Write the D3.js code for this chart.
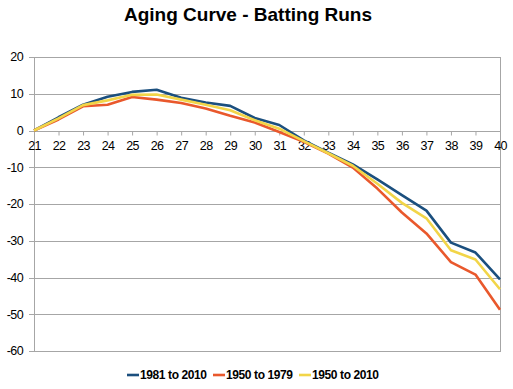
<!DOCTYPE html>
<html>
<head>
<meta charset="utf-8">
<script src="https://cdn.jsdelivr.net/npm/d3@7"></script>
<style>
  body { margin: 0; background: #fff; }
  svg { display: block; font-family: "Liberation Sans", Arial, sans-serif; }
</style>
</head>
<body>
<div id="chart"></div>
<script>
// chart data
const ages = [21, 22, 23, 24, 25, 26, 27, 28, 29, 30, 31, 32, 33, 34, 35, 36, 37, 38, 39, 40];
const runs1981to2010 = [0, 3.6, 7.0, 9.2, 10.5, 11.1, 8.9, 7.6, 6.7, 3.4, 1.5, -2.7, -6.0, -9.2, -13.3, -17.6, -21.8, -30.5, -33.2, -40.5];
const runs1950to1979 = [0, 3.0, 6.6, 7.0, 9.1, 8.4, 7.5, 6.0, 4.0, 2.2, -0.4, -3.1, -6.3, -10.1, -15.8, -22.3, -28.0, -35.8, -39.2, -48.8];
const runs1950to2010 = [0, 3.3, 6.9, 8.2, 9.7, 9.8, 8.4, 7.0, 5.5, 2.8, 0.5, -2.9, -6.2, -9.6, -14.5, -19.7, -23.9, -32.6, -35.1, -43.2];
const yTicks = [20, 10, 0, -10, -20, -30, -40, -50, -60];

const series = [
    { name: '1981 to 2010', values: runs1981to2010, color: '#1b4f7e' },
    { name: '1950 to 1979', values: runs1950to1979, color: '#e9582c' },
    { name: '1950 to 2010', values: runs1950to2010, color: '#f2d548' }
];

const width = 513, height = 389;
const margins = { top: 57, right: 13, bottom: 37, left: 34 };

const svg = d3.select('#chart').append('svg')
    .attr('width', width)
    .attr('height', height);

// title
svg.append('text')
    .attr('x', 248)
    .attr('y', 21)
    .attr('text-anchor', 'middle')
    .style('font-size', '19px')
    .style('font-weight', 'bold')
    .text('Aging Curve - Batting Runs');

const x = d3.scaleLinear()
    .domain([21, 40])
    .range([margins.left, width - margins.right]);

const y = d3.scaleLinear()
    .domain([-60, 20])
    .range([height - margins.bottom - 1, margins.top]);

// gridlines
svg.append('g')
    .selectAll('line')
    .data(yTicks)
    .join('line')
    .attr('x1', margins.left - 5)
    .attr('x2', x(40))
    .attr('y1', d => Math.round(y(d)) + 0.5)
    .attr('y2', d => Math.round(y(d)) + 0.5)
    .attr('stroke', '#a6a6a6');

// y labels
svg.append('g')
    .selectAll('text')
    .data(yTicks)
    .join('text')
    .attr('x', 23)
    .attr('y', d => y(d))
    .attr('dy', '0.35em')
    .attr('text-anchor', 'end')
    .style('font-size', '12.5px')
    .style('letter-spacing', '-0.6px')
    .text(d => d);

// left and right borders
svg.append('line')
    .attr('x1', margins.left + 0.5).attr('x2', margins.left + 0.5)
    .attr('y1', y(20)).attr('y2', y(-60) + 1)
    .attr('stroke', '#a6a6a6');
svg.append('line')
    .attr('x1', Math.round(x(40)) + 0.5).attr('x2', Math.round(x(40)) + 0.5)
    .attr('y1', y(20)).attr('y2', y(-60) + 1)
    .attr('stroke', '#a6a6a6');

// x axis at zero
const xAxis = svg.append('g')
    .attr('transform', `translate(0,${Math.round(y(0)) + 0.5})`)
    .call(d3.axisBottom(x)
        .tickValues(ages)
        .tickSize(4)
        .tickFormat(d => d));
xAxis.select('.domain').remove();
xAxis.selectAll('.tick line').attr('stroke', '#a6a6a6');
xAxis.selectAll('.tick text')
    .attr('y', 10)
    .attr('dy', '0.71em')
    .style('font-family', '"Liberation Sans", Arial, sans-serif')
    .style('font-size', '12.5px')
    .style('letter-spacing', '-0.6px')
    .attr('fill', '#000');

// lines
const line = d3.line()
    .x((d, i) => x(ages[i]))
    .y(d => y(d));

svg.append('g')
    .selectAll('path')
    .data(series)
    .join('path')
    .attr('d', d => line(d.values))
    .attr('fill', 'none')
    .attr('stroke', d => d.color)
    .attr('stroke-width', 2.6)
    .attr('stroke-linejoin', 'round');

// legend
const legendX = [127, 213, 299];
const legend = svg.append('g')
    .selectAll('g')
    .data(series)
    .join('g')
    .attr('transform', (d, i) => `translate(${legendX[i]},375)`);
legend.append('line')
    .attr('x1', 0).attr('x2', 12)
    .attr('stroke', d => d.color)
    .attr('stroke-width', 2.6);
legend.append('text')
    .attr('x', 13)
    .attr('dy', '0.35em')
    .style('font-size', '12px')
    .style('font-weight', 'bold')
    .style('letter-spacing', '-0.4px')
    .text(d => d.name);
</script>
</body>
</html>
